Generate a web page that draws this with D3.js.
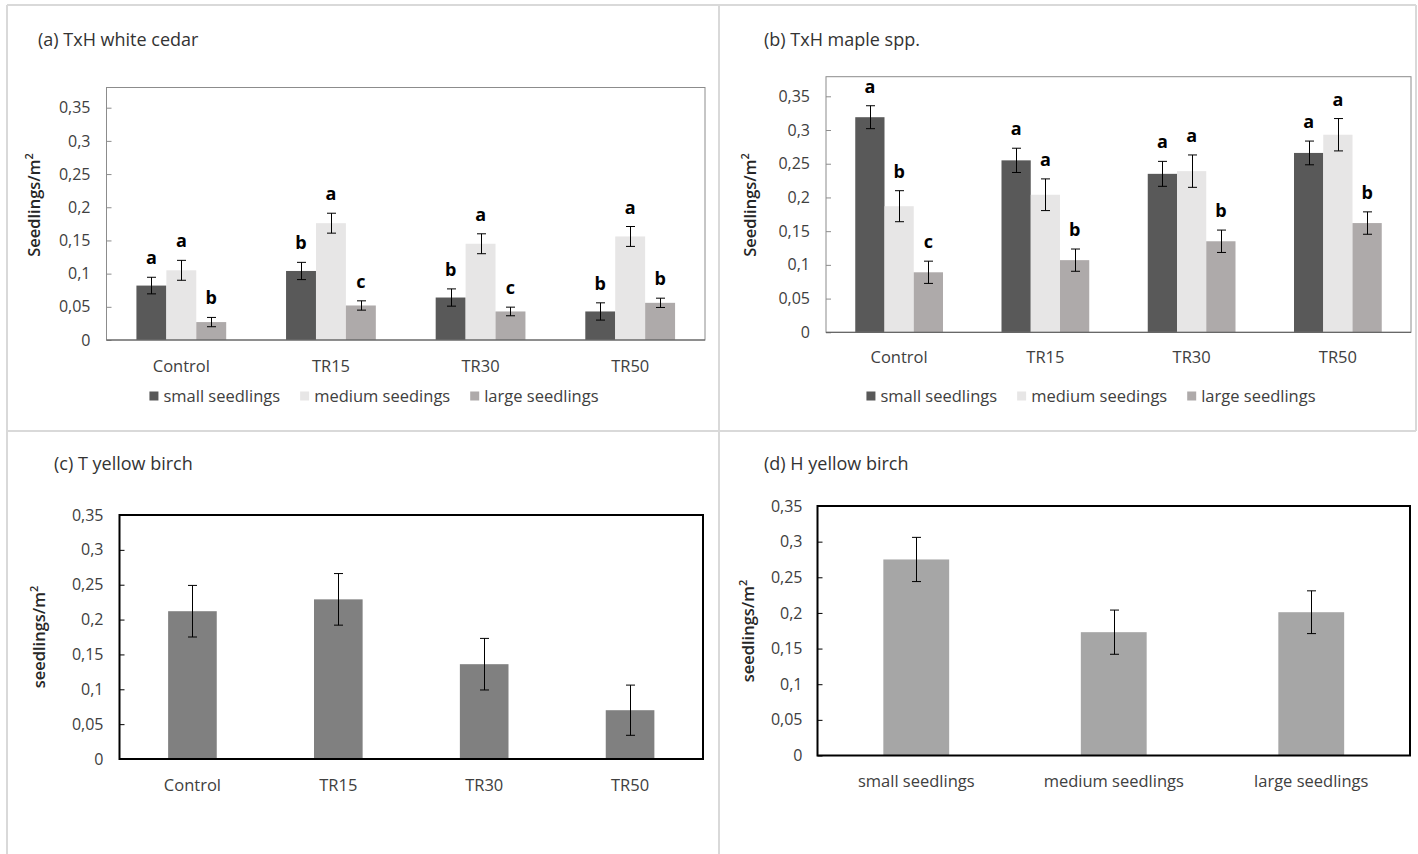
<!DOCTYPE html>
<html>
<head>
<meta charset="utf-8">
<script src="https://cdnjs.cloudflare.com/ajax/libs/d3/7.8.5/d3.min.js"></script>
<style>
  html, body { margin: 0; padding: 0; background: #fff; }
  svg { display: block; font-family: "Open Sans", "Liberation Sans", sans-serif; }
</style>
</head>
<body>
<svg id="chart" width="1418" height="854"></svg>
<script>
// ---------------- DATA ----------------
const treatments = ["Control", "TR15", "TR30", "TR50"];
const sizeLegend = ["small seedlings", "medium seedings", "large seedlings"];
const sizeCategories = ["small seedlings", "medium seedlings", "large seedlings"];
const yTicks = [0, 0.05, 0.1, 0.15, 0.2, 0.25, 0.3, 0.35];

// (a) TxH white cedar
const cedarSmall = [0.082, 0.104, 0.064, 0.043];
const cedarSmallErr = [0.0125, 0.013, 0.013, 0.013];
const cedarMedium = [0.105, 0.176, 0.145, 0.156];
const cedarMediumErr = [0.015, 0.015, 0.015, 0.015];
const cedarLarge = [0.027, 0.052, 0.043, 0.056];
const cedarLargeErr = [0.007, 0.007, 0.0065, 0.007];
const cedarLetSmall = ["a", "b", "b", "b"];
const cedarLetMedium = ["a", "a", "a", "a"];
const cedarLetLarge = ["b", "c", "c", "b"];

// (b) TxH maple spp.
const mapleSmall = [0.319, 0.255, 0.235, 0.266];
const mapleSmallErr = [0.017, 0.018, 0.0185, 0.0176];
const mapleMedium = [0.187, 0.204, 0.239, 0.293];
const mapleMediumErr = [0.023, 0.0235, 0.024, 0.024];
const mapleLarge = [0.089, 0.107, 0.135, 0.162];
const mapleLargeErr = [0.0165, 0.0165, 0.0166, 0.0166];
const mapleLetSmall = ["a", "a", "a", "a"];
const mapleLetMedium = ["b", "a", "a", "a"];
const mapleLetLarge = ["c", "b", "b", "b"];

// (c) T yellow birch
const tBirch = [0.212, 0.229, 0.136, 0.070];
const tBirchErr = [0.037, 0.037, 0.037, 0.036];

// (d) H yellow birch
const hBirch = [0.275, 0.173, 0.201];
const hBirchErr = [0.031, 0.031, 0.030];

// ---------------- STYLE ----------------
const seriesColors = ["#595959", "#e7e6e6", "#aeaaaa"];
const textColor = "#404040";
const locale = d3.formatLocale({decimal: ",", thousands: ".", grouping: [3], currency: ["", "€"]});
const fmt = locale.format("~g");

const svg = d3.select("#chart");

// outer frame lines
const frame = svg.append("g").attr("stroke", "#d9d9d9").attr("stroke-width", 2);
frame.append("line").attr("x1", 7).attr("x2", 1416).attr("y1", 5).attr("y2", 5);
frame.append("line").attr("x1", 7).attr("x2", 7).attr("y1", 5).attr("y2", 854);
frame.append("line").attr("x1", 719).attr("x2", 719).attr("y1", 5).attr("y2", 854);
frame.append("line").attr("x1", 7).attr("x2", 1416).attr("y1", 431).attr("y2", 431);
frame.append("line").attr("x1", 1416).attr("x2", 1416).attr("y1", 5).attr("y2", 431);

function panel(cfg) {
  const g = svg.append("g");
  const y = d3.scaleLinear().domain([0, 0.35]).range([cfg.y0, cfg.y35]);

  // title
  g.append("text").attr("x", cfg.titleX).attr("y", cfg.titleY)
    .attr("font-size", 18).attr("fill", "#333333")
    .text(cfg.title);

  // y axis title
  g.append("text")
    .attr("transform", `translate(${cfg.yTitleX},${cfg.yTitleY}) rotate(-90)`)
    .attr("text-anchor", "middle").attr("font-size", 16.5).attr("font-weight", 600)
    .attr("fill", "#262626")
    .text(cfg.yTitle).append("tspan").attr("baseline-shift", "super").attr("font-size", 11).text("2");

  // y axis
  const ya = g.append("g").attr("transform", `translate(${cfg.x0},0)`)
    .call(d3.axisLeft(y).tickValues(yTicks).tickFormat(fmt)
      .tickSizeInner(-5).tickSizeOuter(0).tickPadding(cfg.labelPad));
  ya.select(".domain").remove();
  ya.selectAll(".tick line").attr("stroke", cfg.boxColor);
  ya.selectAll(".tick text").attr("font-size", 16).attr("fill", textColor)
    .attr("font-family", '"Open Sans", sans-serif');

  return {g, y};
}

function drawBox(g, cfg) {
  g.append("rect").attr("x", cfg.x0).attr("y", cfg.yTop)
    .attr("width", cfg.x1 - cfg.x0).attr("height", cfg.y0 - cfg.yTop)
    .attr("fill", "none").attr("stroke", cfg.boxColor).attr("stroke-width", cfg.boxWidth);
}

function xAxis(g, x, cfg) {
  const xa = g.append("g").attr("transform", `translate(0,${cfg.y0})`)
    .call(d3.axisBottom(x).tickSize(0).tickPadding(cfg.xPad));
  xa.select(".domain").remove();
  xa.selectAll(".tick text").attr("font-size", 16.5).attr("fill", textColor)
    .attr("font-family", '"Open Sans", sans-serif');
}

function errBars(g, data, xc, y, cap) {
  const eg = g.append("g").attr("stroke", "#000").attr("stroke-width", 1);
  data.forEach(d => {
    const cx = Math.round(xc(d)) + 0.5;
    const yt = y(d.v + d.e), yb = y(d.v - d.e);
    eg.append("line").attr("x1", cx).attr("x2", cx).attr("y1", yt).attr("y2", yb);
    eg.append("line").attr("x1", cx - cap / 2).attr("x2", cx + cap / 2).attr("y1", yt).attr("y2", yt);
    eg.append("line").attr("x1", cx - cap / 2).attr("x2", cx + cap / 2).attr("y1", yb).attr("y2", yb);
  });
}

function groupedPanel(cfg, series, errs, letters) {
  const {g, y} = panel(cfg);
  const x = d3.scaleBand().domain(treatments).range([cfg.x0, cfg.x1])
    .paddingInner(0.4).paddingOuter(0.2);
  const xs = d3.scaleBand().domain([0, 1, 2]).range([0, x.bandwidth()]);
  const data = [];
  series.forEach((vals, si) => vals.forEach((v, ti) => data.push({
    t: treatments[ti], s: si, v: v, e: errs[si][ti], l: letters[si][ti]
  })));
  g.selectAll("rect.bar").data(data).join("rect").attr("class", "bar")
    .attr("x", d => x(d.t) + xs(d.s)).attr("width", xs.bandwidth())
    .attr("y", d => y(d.v)).attr("height", d => y(0) - y(d.v))
    .attr("fill", d => seriesColors[d.s]);
  const xc = d => x(d.t) + xs(d.s) + xs.bandwidth() / 2;
  errBars(g, data, xc, y, 9);
  g.selectAll("text.let").data(data).join("text").attr("class", "let")
    .attr("x", xc).attr("y", d => y(d.v + d.e) - 13)
    .attr("text-anchor", "middle").attr("font-size", 18).attr("font-weight", 700)
    .attr("fill", "#000").text(d => d.l);
  drawBox(g, cfg);
  // darker x-axis baseline
  g.append("line").attr("x1", cfg.x0).attr("x2", cfg.x1).attr("y1", cfg.y0).attr("y2", cfg.y0)
    .attr("stroke", "#595959").attr("stroke-width", 1);
  xAxis(g, x, cfg);

  // legend
  const lg = g.append("g");
  const items = lg.selectAll("g").data(sizeLegend).join("g");
  items.append("rect").attr("width", 9).attr("height", 9).attr("fill", (d, i) => seriesColors[i]);
  items.append("text").attr("x", 14).attr("y", 10).attr("font-size", 16.5).attr("fill", textColor).text(d => d);
  let off = 0;
  const widths = [];
  items.each(function () {
    const w = d3.select(this).select("text").node().getComputedTextLength();
    widths.push(14 + w);
  });
  const total = d3.sum(widths) + 20 * (widths.length - 1);
  const start = cfg.legendCx - total / 2;
  items.attr("transform", (d, i) => {
    const tx = start + off; off += widths[i] + 20;
    return `translate(${tx},${cfg.legendY - 4.5})`;
  });
}

function singlePanel(cfg, cats, vals, errs, color) {
  const {g, y} = panel(cfg);
  const x = d3.scaleBand().domain(cats).range([cfg.x0, cfg.x1])
    .paddingInner(2 / 3).paddingOuter(1 / 3);
  const data = vals.map((v, i) => ({t: cats[i], v: v, e: errs[i]}));
  g.selectAll("rect.bar").data(data).join("rect").attr("class", "bar")
    .attr("x", d => x(d.t)).attr("width", x.bandwidth())
    .attr("y", d => y(d.v)).attr("height", d => y(0) - y(d.v))
    .attr("fill", color);
  errBars(g, data, d => x(d.t) + x.bandwidth() / 2, y, 9);
  drawBox(g, cfg);
  xAxis(g, x, cfg);
}

groupedPanel({
  title: "(a) TxH white cedar", titleX: 38, titleY: 46,
  yTitle: "Seedlings/m", yTitleX: 40, yTitleY: 205,
  x0: 106.5, x1: 705, yTop: 87.5, y0: 340, y35: 107.7,
  labelPad: 16, xPad: 20, boxColor: "#8c8c8c", boxWidth: 1,
  legendCx: 374, legendY: 396
}, [cedarSmall, cedarMedium, cedarLarge], [cedarSmallErr, cedarMediumErr, cedarLargeErr],
   [cedarLetSmall, cedarLetMedium, cedarLetLarge]);

groupedPanel({
  title: "(b) TxH maple spp.", titleX: 764, titleY: 46,
  yTitle: "Seedlings/m", yTitleX: 756, yTitleY: 205,
  x0: 826, x1: 1411, yTop: 76.7, y0: 332.3, y35: 96.3,
  labelPad: 16, xPad: 19, boxColor: "#8c8c8c", boxWidth: 1,
  legendCx: 1091, legendY: 396
}, [mapleSmall, mapleMedium, mapleLarge], [mapleSmallErr, mapleMediumErr, mapleLargeErr],
   [mapleLetSmall, mapleLetMedium, mapleLetLarge]);

singlePanel({
  title: "(c) T yellow birch", titleX: 54, titleY: 470,
  yTitle: "seedlings/m", yTitleX: 45, yTitleY: 637,
  x0: 119.5, x1: 703, yTop: 515, y0: 759, y35: 515,
  labelPad: 16, xPad: 20, boxColor: "#000", boxWidth: 2
}, treatments, tBirch, tBirchErr, "#808080");

singlePanel({
  title: "(d) H yellow birch", titleX: 764, titleY: 470,
  yTitle: "seedlings/m", yTitleX: 754, yTitleY: 631,
  x0: 817.5, x1: 1410, yTop: 506, y0: 755.5, y35: 506,
  labelPad: 15, xPad: 20, boxColor: "#000", boxWidth: 2
}, sizeCategories, hBirch, hBirchErr, "#a6a6a6");
</script>
</body>
</html>
